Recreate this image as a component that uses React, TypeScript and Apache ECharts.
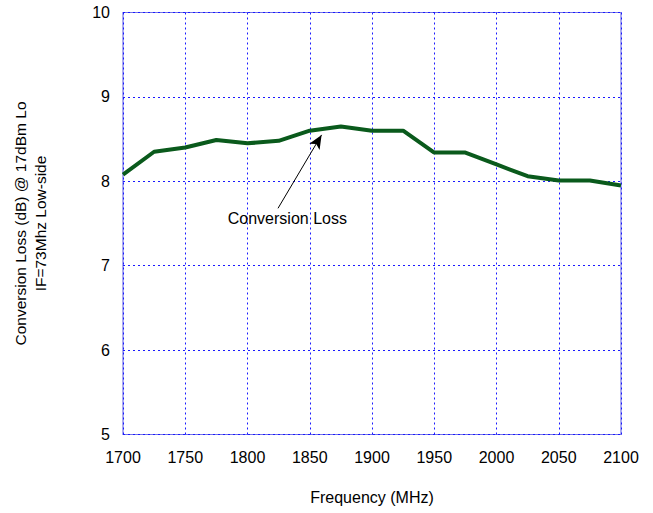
import React, { useEffect, useRef } from "react";
import * as echarts from "echarts";

const frequencies = [1700, 1725, 1750, 1775, 1800, 1825, 1850, 1875, 1900, 1925, 1950, 1975, 2000, 2025, 2050, 2075, 2100];
const conversionLoss = [8.08, 8.35, 8.4, 8.49, 8.45, 8.48, 8.6, 8.65, 8.6, 8.6, 8.34, 8.34, 8.2, 8.06, 8.01, 8.01, 7.95];
const annotationText = "Conversion Loss";
const arrowStart = [1824.5, 7.68];
const arrowEnd = [1859.5, 8.55];
const textAnchor = [1832, 7.56];

const FONT = "'Liberation Sans', Arial, sans-serif";

export default function App() {
  const ref = useRef<HTMLDivElement>(null);
  useEffect(() => {
    if (!ref.current) return;
    const chart = echarts.init(ref.current, null, { renderer: "svg" });
    chart.setOption({
      animation: false,
      backgroundColor: "#ffffff",
      grid: { left: 123, right: 32, top: 12.5, bottom: 78.5, show: true, borderColor: "#7373e6", borderWidth: 1.2 },
      xAxis: {
        type: "value",
        min: 1700,
        max: 2100,
        interval: 50,
        name: "Frequency (MHz)",
        nameLocation: "middle",
        nameGap: 55,
        nameTextStyle: { fontFamily: FONT, fontSize: 16, color: "#000" },
        axisLine: { show: false },
        axisTick: { show: false },
        axisLabel: { fontFamily: FONT, fontSize: 16, color: "#000", margin: 15, formatter: (v: number) => String(v) },
        splitLine: { show: true, lineStyle: { color: "#1a1aff", type: [2, 3], width: 1 } },
      },
      yAxis: {
        type: "value",
        min: 5,
        max: 10,
        interval: 1,
        name: "Conversion Loss (dB) @ 17dBm Lo\nIF=73Mhz Low-side",
        nameLocation: "middle",
        nameRotate: 90,
        nameGap: 73,
        nameTextStyle: { fontFamily: FONT, fontSize: 15.5, color: "#000", lineHeight: 20, align: "center" },
        axisLine: { show: false },
        axisTick: { show: false },
        axisLabel: { fontFamily: FONT, fontSize: 16, color: "#000", margin: 13, formatter: (v: number) => String(v) },
        splitLine: { show: true, lineStyle: { color: "#1a1aff", type: [2, 3], width: 1 } },
      },
      series: [
        {
          type: "line",
          data: frequencies.map((f, i) => [f, conversionLoss[i]]),
          symbol: "none",
          lineStyle: { color: "#0a5a1c", width: 4 },
          markLine: {
            silent: true,
            symbol: ["none", "arrow"],
            symbolSize: [9, 14],
            label: { show: false },
            lineStyle: { color: "#000", width: 1, type: "solid" },
            data: [[{ coord: arrowStart }, { coord: arrowEnd }]],
          },
          markPoint: {
            silent: true,
            symbol: "circle",
            symbolSize: 0,
            label: { show: true, formatter: annotationText, fontFamily: FONT, fontSize: 16, color: "#000", position: "inside" },
            data: [{ coord: textAnchor }],
          },
        },
      ],
    });
    return () => chart.dispose();
  }, []);
  return <div ref={ref} style={{ width: 653, height: 513, position: "absolute", left: 0, top: 0 }} />;
}
